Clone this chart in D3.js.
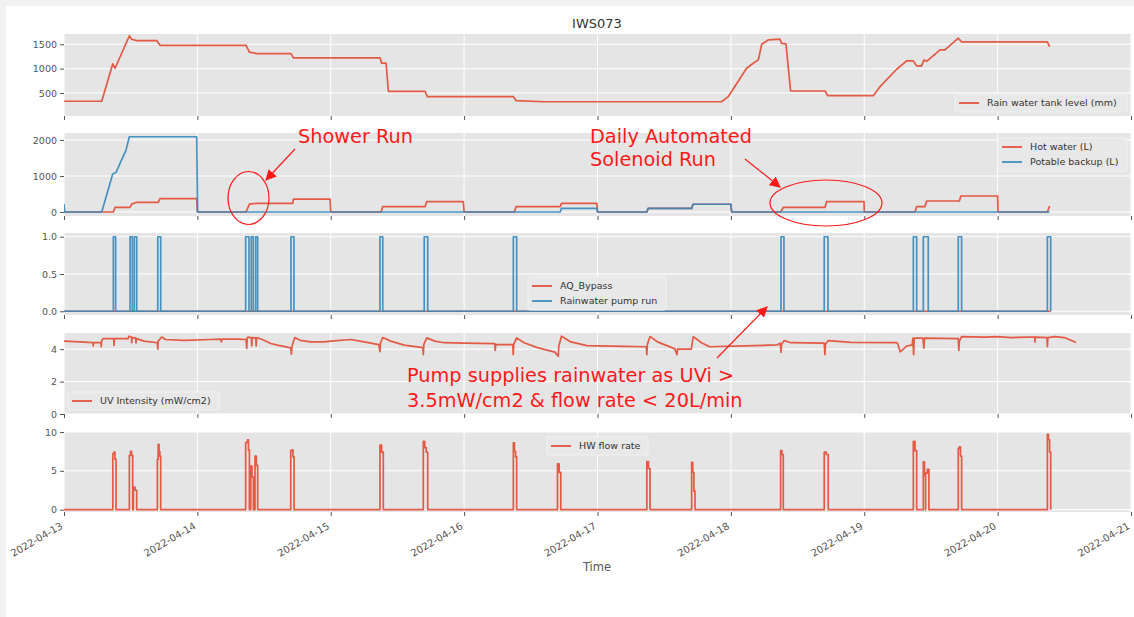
<!DOCTYPE html>
<html>
<head>
<meta charset="utf-8">
<script src="https://cdn.jsdelivr.net/npm/d3@7"></script>
<style>
  html, body { margin: 0; padding: 0; background: #f1f1f1; }
  svg { display: block; }
</style>
</head>
<body>
<div id="chart"></div>
<script>
// IWS073 – five stacked time series panels, 2022-04-13 .. 2022-04-21
// time values are days since 2022-04-13 00:00

const tankLevel = [
  [0, 330], [0.283, 330], [0.365, 1097], [0.383, 1008], [0.49, 1674], [0.507, 1605],
  [0.545, 1577], [0.695, 1577], [0.72, 1480], [1.365, 1480], [1.39, 1338], [1.445, 1310],
  [1.702, 1310], [1.72, 1220], [2.37, 1220], [2.382, 1112], [2.415, 1112], [2.432, 535],
  [2.707, 535], [2.724, 425], [3.369, 425], [3.39, 342], [3.594, 320], [4.93, 320],
  [4.98, 424], [5.118, 1008], [5.168, 1112], [5.206, 1180], [5.231, 1500], [5.28, 1590],
  [5.368, 1605], [5.381, 1520], [5.413, 1510], [5.448, 541], [5.706, 541], [5.726, 445],
  [6.068, 445], [6.118, 630], [6.243, 988], [6.318, 1160], [6.368, 1160], [6.393, 1056],
  [6.43, 1056], [6.448, 1180], [6.468, 1150], [6.568, 1385], [6.605, 1385], [6.705, 1625],
  [6.73, 1550], [7.373, 1550], [7.39, 1450]
];

const hotWater = [
  [0, 0], [0.37, 0], [0.383, 130], [0.495, 130], [0.507, 220], [0.545, 270], [0.707, 270],
  [0.72, 370], [0.995, 370], [1.0, 0], [1.365, 0], [1.39, 220], [1.445, 240], [1.715, 240],
  [1.72, 360], [1.995, 360], [2.0, 0], [2.377, 0], [2.39, 150], [2.707, 150], [2.72, 290],
  [2.994, 290], [3.0, 0], [3.377, 0], [3.39, 150], [3.72, 150], [3.73, 240], [3.995, 240],
  [4.0, 0], [4.37, 0], [4.38, 100], [4.706, 100], [4.716, 215], [5.0, 215], [5.006, 0],
  [5.373, 0], [5.393, 130], [5.706, 130], [5.718, 290], [5.998, 290], [6.0, 0], [6.38, 0],
  [6.393, 150], [6.455, 150], [6.468, 305], [6.713, 305], [6.725, 445], [7.0, 445],
  [7.003, 0], [7.373, 0], [7.39, 165]
];

const potableBackup = [
  [0, 220], [0.005, 0], [0.283, 0], [0.365, 1055], [0.39, 1100], [0.465, 1720], [0.49, 2090],
  [0.995, 2090], [1.002, 0], [3.72, 0], [3.73, 100], [3.995, 100], [4.0, 0], [4.37, 0],
  [4.38, 100], [4.706, 100], [4.716, 215], [5.0, 215], [5.006, 0], [7.39, 0]
];

// rainwater pump run: on-intervals [start, end]
const pumpRuns = [
  [0.370, 0.387], [0.495, 0.512], [0.527, 0.545], [0.703, 0.725], [1.362, 1.387],
  [1.404, 1.419], [1.437, 1.452], [1.702, 1.724], [2.369, 2.390], [2.701, 2.727],
  [3.369, 3.394], [5.376, 5.398], [5.700, 5.728], [6.368, 6.393], [6.443, 6.480],
  [6.705, 6.730], [7.373, 7.398]
];
const aqBypass = [[0, 0], [7.398, 0]];

const uvIntensity = [
  [0, 4.5], [0.12, 4.45], [0.217, 4.4], [0.219, 4.2], [0.222, 4.4], [0.277, 4.4], [0.279, 4.15],
  [0.282, 4.5], [0.292, 4.65], [0.373, 4.65], [0.375, 4.23], [0.378, 4.65], [0.48, 4.65],
  [0.487, 4.8], [0.505, 4.75], [0.508, 4.4], [0.511, 4.72], [0.537, 4.7], [0.54, 4.38],
  [0.543, 4.65], [0.6, 4.5], [0.70, 4.4], [0.703, 4.0], [0.706, 4.5], [0.733, 4.75],
  [0.76, 4.6], [0.9, 4.55], [1.1, 4.6], [1.175, 4.62], [1.18, 4.45], [1.185, 4.62],
  [1.3, 4.62], [1.365, 4.6], [1.37, 4.05], [1.374, 4.7], [1.38, 4.75], [1.405, 4.7],
  [1.408, 4.2], [1.411, 4.72], [1.438, 4.7], [1.441, 4.2], [1.444, 4.7], [1.46, 4.68],
  [1.5, 4.55], [1.55, 4.35], [1.6, 4.25], [1.7, 4.08], [1.705, 3.7], [1.71, 4.2], [1.73, 4.72],
  [1.77, 4.55], [1.85, 4.45], [1.95, 4.45], [2.0, 4.5], [2.15, 4.6], [2.25, 4.45],
  [2.36, 4.28], [2.369, 3.85], [2.373, 4.4], [2.39, 4.72], [2.45, 4.5], [2.55, 4.25],
  [2.69, 4.1], [2.694, 3.66], [2.698, 4.3], [2.72, 4.7], [2.78, 4.5], [2.85, 4.4],
  [3.0, 4.37], [3.23, 4.35], [3.233, 3.92], [3.237, 4.28], [3.365, 4.28], [3.368, 3.66],
  [3.372, 4.3], [3.394, 4.7], [3.45, 4.4], [3.55, 4.1], [3.68, 3.82], [3.706, 3.56],
  [3.71, 4.2], [3.73, 4.8], [3.8, 4.45], [3.92, 4.22], [4.2, 4.18], [4.366, 4.15],
  [4.37, 3.66], [4.374, 4.3], [4.394, 4.78], [4.45, 4.45], [4.58, 4.02], [4.596, 3.66],
  [4.6, 4.0], [4.703, 4.0], [4.718, 4.78], [4.78, 4.4], [4.84, 4.15], [5.1, 4.2],
  [5.35, 4.27], [5.37, 4.37], [5.376, 3.8], [5.38, 4.3], [5.4, 4.53], [5.45, 4.4],
  [5.7, 4.38], [5.705, 3.66], [5.709, 4.3], [5.73, 4.53], [5.9, 4.42], [6.24, 4.41],
  [6.25, 4.35], [6.27, 3.84], [6.32, 4.2], [6.36, 4.27], [6.365, 4.68], [6.37, 3.66],
  [6.375, 4.68], [6.44, 4.68], [6.447, 4.06], [6.452, 4.68], [6.705, 4.65], [6.709, 3.92],
  [6.713, 4.5], [6.73, 4.78], [6.9, 4.75], [7.0, 4.78], [7.1, 4.72], [7.23, 4.74],
  [7.278, 4.74], [7.28, 4.43], [7.282, 4.74], [7.37, 4.72], [7.373, 4.15], [7.377, 4.72],
  [7.43, 4.78], [7.5, 4.72], [7.588, 4.41]
];

// hot water flow spikes: [start, end, readings...]
const flowSpikes = [
  [0.366, 0.39, 7.2, 7.4, 6.5], [0.49, 0.515, 7.0, 7.5, 7.0], [0.52, 0.545, 2.9, 2.5],
  [0.70, 0.725, 6.5, 8.4, 7.5, 6.9], [1.362, 1.39, 8.6, 8.7, 9.0, 7.7], [1.40, 1.42, 5.6, 4.2],
  [1.432, 1.452, 6.9, 5.7], [1.70, 1.725, 7.6, 7.7, 6.8], [2.369, 2.394, 8.3, 7.4],
  [2.694, 2.727, 8.8, 8.0, 7.4], [3.369, 3.394, 8.6, 7.5, 6.8], [3.70, 3.725, 5.9, 4.8],
  [4.37, 4.394, 6.2, 5.3], [4.706, 4.731, 6.1, 4.8, 2.4], [5.373, 5.393, 7.6, 7.1],
  [5.70, 5.73, 7.4, 7.1], [6.368, 6.393, 8.8, 7.6], [6.443, 6.46, 6.15, 4.4],
  [6.46, 6.485, 4.7, 5.2], [6.705, 6.73, 7.9, 8.1, 6.9], [7.373, 7.398, 9.7, 9.0, 7.4]
];
const flowEnd = 7.398;

const dateLabels = ["2022-04-13", "2022-04-14", "2022-04-15", "2022-04-16", "2022-04-17",
                    "2022-04-18", "2022-04-19", "2022-04-20", "2022-04-21"];

// ---- build step series ----
const pumpSeries = [[0, 0]];
pumpRuns.forEach(r => { pumpSeries.push([r[0], 1], [r[1], 0]); });
pumpSeries.push([7.398, 0]);

const flowSeries = [[0, 0]];
flowSpikes.forEach(s => {
  const vals = s.slice(2);
  vals.forEach((v, i) => flowSeries.push([s[0] + (s[1] - s[0]) * i / vals.length, v]));
  flowSeries.push([s[1], 0]);
});
flowSeries.push([flowEnd, 0]);

// ---- layout ----
const W = 1134, H = 617;
const RED = "#E24A33", BLUE = "#348ABD";
const t0 = Date.UTC(2022, 3, 13);
const toDate = d => new Date(t0 + d * 864e5);

const svg = d3.select("#chart").append("svg")
  .attr("width", W).attr("height", H)
  .style("font-family", "DejaVu Sans, sans-serif");

svg.append("rect").attr("width", W).attr("height", H).attr("fill", "#f1f1f1");
svg.append("rect").attr("x", 6).attr("y", 6).attr("width", W - 6).attr("height", H - 6).attr("fill", "#fff");

const x = d3.scaleUtc()
  .domain([toDate(0), toDate(8)])
  .range([64, 1131]);
const xTicks = dateLabels.map(s => new Date(s + "T00:00:00Z"));

const panels = [
  { top: 34, bottom: 116, domain: [27, 1712], ticks: [500, 1000, 1500], fmt: d3.format("d"),
    series: [{ data: tankLevel, color: RED }],
    legend: { x: 955, y: 94, w: 172, items: [["Rain water tank level (mm)", RED]] } },
  { top: 133, bottom: 216, domain: [-111, 2194], ticks: [0, 1000, 2000], fmt: d3.format("d"),
    series: [{ data: hotWater, color: RED }, { data: potableBackup, color: BLUE }],
    legend: { x: 998, y: 138, w: 129, items: [["Hot water (L)", RED], ["Potable backup (L)", BLUE]] } },
  { top: 233, bottom: 315, domain: [-0.05, 1.05], ticks: [0, 0.5, 1], fmt: d3.format(".1f"),
    series: [{ data: aqBypass, color: RED, step: true }, { data: pumpSeries, color: BLUE, step: true }],
    legend: { x: 528, y: 277, w: 138, items: [["AQ_Bypass", RED], ["Rainwater pump run", BLUE]] } },
  { top: 333, bottom: 414, domain: [0, 5.0], ticks: [0, 2, 4], fmt: d3.format("d"),
    series: [{ data: uvIntensity, color: RED }],
    legend: { x: 68, y: 392, w: 151, items: [["UV Intensity (mW/cm2)", RED]] } },
  { top: 432, bottom: 512, domain: [-0.3, 10.0], ticks: [0, 5, 10], fmt: d3.format("d"),
    series: [{ data: flowSeries, color: RED, step: true }],
    legend: { x: 547, y: 437, w: 101, items: [["HW flow rate", RED]] } }
];

const defs = svg.append("defs");

panels.forEach((p, pi) => {
  const y = d3.scaleLinear().domain(p.domain).range([p.bottom, p.top]);
  const g = svg.append("g");

  g.append("rect")
    .attr("x", x.range()[0]).attr("y", p.top)
    .attr("width", x.range()[1] - x.range()[0]).attr("height", p.bottom - p.top)
    .attr("fill", "#e5e5e5");

  // grid
  g.selectAll(".vg").data(xTicks).enter().append("line")
    .attr("x1", d => x(d)).attr("x2", d => x(d))
    .attr("y1", p.top).attr("y2", p.bottom)
    .attr("stroke", "#fff").attr("stroke-width", 1);
  g.selectAll(".hg").data(p.ticks).enter().append("line")
    .attr("x1", x.range()[0]).attr("x2", x.range()[1])
    .attr("y1", d => y(d)).attr("y2", d => y(d))
    .attr("stroke", "#fff").attr("stroke-width", 1);

  // axes
  const yAxis = d3.axisLeft(y).tickValues(p.ticks).tickFormat(p.fmt).tickSize(4).tickPadding(3);
  const ya = g.append("g").attr("transform", `translate(${x.range()[0]},0)`).call(yAxis);
  ya.select(".domain").remove();
  ya.selectAll("line").attr("stroke", "#555");
  ya.selectAll("text").attr("fill", "#555").style("font-size", "9.5px").style("font-family", "DejaVu Sans, sans-serif");

  const isLast = pi === panels.length - 1;
  const xAxis = d3.axisBottom(x).tickValues(xTicks).tickSize(4)
    .tickFormat(isLast ? d3.utcFormat("%Y-%m-%d") : "");
  const xa = g.append("g").attr("transform", `translate(0,${p.bottom})`).call(xAxis);
  xa.select(".domain").remove();
  xa.selectAll("line").attr("stroke", "#555");
  if (isLast) {
    xa.selectAll("text")
      .attr("fill", "#555")
      .style("font-size", "10px").style("font-family", "DejaVu Sans, sans-serif")
      .attr("text-anchor", "end")
      .attr("dy", null).attr("y", 0)
      .attr("transform", "translate(-1,16) rotate(-30)");
  }

  // lines
  const clipId = "clip" + pi;
  defs.append("clipPath").attr("id", clipId).append("rect")
    .attr("x", x.range()[0]).attr("y", p.top)
    .attr("width", x.range()[1] - x.range()[0]).attr("height", p.bottom - p.top);

  p.series.forEach(s => {
    const line = d3.line()
      .x(d => x(toDate(d[0])))
      .y(d => y(d[1]))
      .curve(s.step ? d3.curveStepAfter : d3.curveLinear);
    g.append("path")
      .datum(s.data)
      .attr("clip-path", `url(#${clipId})`)
      .attr("d", line)
      .attr("fill", "none")
      .attr("stroke", s.color)
      .attr("stroke-opacity", 0.9)
      .attr("stroke-width", 1.7)
      .attr("stroke-linejoin", "round");
  });

  // legend
  const L = p.legend;
  const lh = 15, lg = g.append("g");
  lg.append("rect")
    .attr("x", L.x).attr("y", L.y)
    .attr("width", L.w).attr("height", L.items.length * lh + 3)
    .attr("rx", 2)
    .attr("fill", "#e8e8e8").attr("stroke", "#f2f2f2").attr("stroke-width", 1);
  L.items.forEach((it, i) => {
    const cy = L.y + 9 + i * lh;
    lg.append("line")
      .attr("x1", L.x + 4).attr("x2", L.x + 24)
      .attr("y1", cy).attr("y2", cy)
      .attr("stroke", it[1]).attr("stroke-width", 1.7);
    lg.append("text")
      .attr("x", L.x + 32).attr("y", cy)
      .attr("dy", "0.35em")
      .attr("fill", "#333")
      .style("font-size", "9.5px")
      .text(it[0]);
  });
});

// title and x label
svg.append("text").attr("x", 597).attr("y", 28).attr("text-anchor", "middle")
  .attr("fill", "#333").style("font-size", "13px").text("IWS073");
svg.append("text").attr("x", 597).attr("y", 571).attr("text-anchor", "middle")
  .attr("fill", "#555").style("font-size", "11.5px").text("Time");

// ---- annotations ----
const ANN = "#ff1a1a";
defs.append("marker")
  .attr("id", "head").attr("viewBox", "0 0 10 10")
  .attr("refX", 9).attr("refY", 5)
  .attr("markerWidth", 11).attr("markerHeight", 11)
  .attr("markerUnits", "userSpaceOnUse")
  .attr("orient", "auto")
  .append("path").attr("d", "M0,0 L10,5 L0,10 Z").attr("fill", ANN);

const ann = svg.append("g").style("font-family", "DejaVu Sans, sans-serif");

function annText(xp, yp, lines, gap) {
  lines.forEach((t, i) => {
    ann.append("text").attr("x", xp).attr("y", yp + i * gap)
      .attr("fill", ANN).style("font-size", "19.3px").text(t);
  });
}
function arrow(x1, y1, x2, y2) {
  ann.append("line").attr("x1", x1).attr("y1", y1).attr("x2", x2).attr("y2", y2)
    .attr("stroke", ANN).attr("stroke-width", 1.2).attr("marker-end", "url(#head)");
}
function ring(cx, cy, rx, ry) {
  ann.append("ellipse").attr("cx", cx).attr("cy", cy).attr("rx", rx).attr("ry", ry)
    .attr("fill", "none").attr("stroke", ANN).attr("stroke-width", 1.2);
}

annText(298, 143, ["Shower Run"], 23);
arrow(295, 149, 266, 180);
ring(248.5, 198, 20.5, 26.5);

annText(590, 143, ["Daily Automated", "Solenoid Run"], 23);
arrow(745, 159, 780, 187);
ring(826, 203, 56, 23);

annText(407, 382, ["Pump supplies rainwater as UVi >", "3.5mW/cm2 & flow rate < 20L/min"], 25);
arrow(717, 358, 767, 307);
</script>
</body>
</html>
